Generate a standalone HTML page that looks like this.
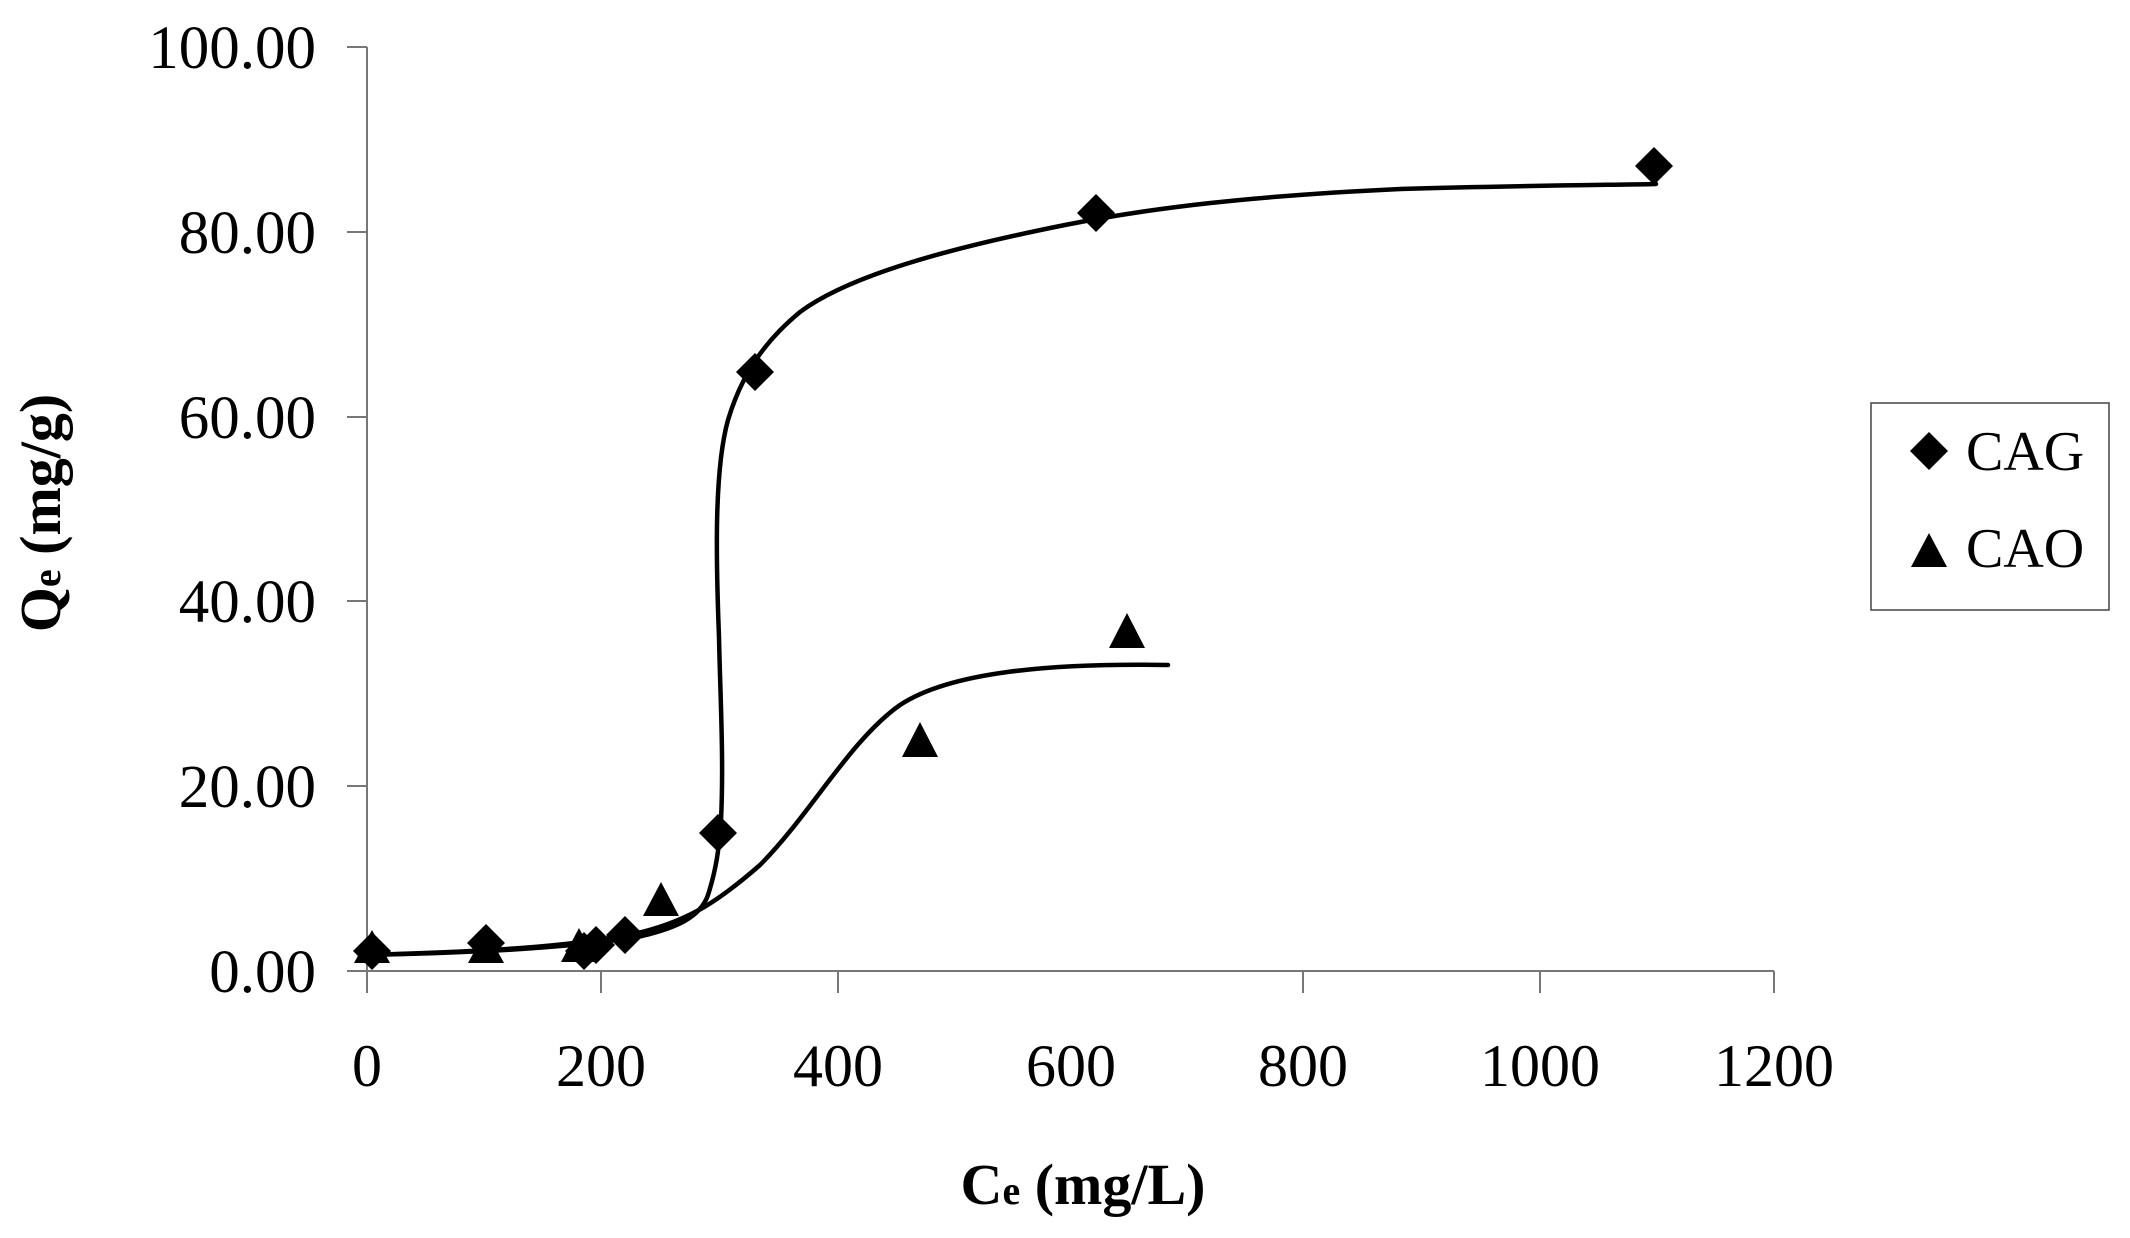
<!DOCTYPE html>
<html><head><meta charset="utf-8"><style>
html,body{margin:0;padding:0;background:#fff}
svg{display:block}
text{font-family:"Liberation Serif",serif;fill:#000}
</style></head><body>
<svg width="2130" height="1238" viewBox="0 0 2130 1238" xmlns="http://www.w3.org/2000/svg">
<rect width="2130" height="1238" fill="#fff"/>
<g stroke="#777" stroke-width="2" fill="none">
<line x1="367" y1="47" x2="367" y2="993"/>
<line x1="347" y1="971" x2="1774" y2="971"/>
<line x1="347" y1="47" x2="367" y2="47"/>
<line x1="347" y1="232" x2="367" y2="232"/>
<line x1="347" y1="417" x2="367" y2="417"/>
<line x1="347" y1="601" x2="367" y2="601"/>
<line x1="347" y1="786" x2="367" y2="786"/>
<line x1="601" y1="971" x2="601" y2="993"/>
<line x1="838" y1="971" x2="838" y2="993"/>
<line x1="1303" y1="971" x2="1303" y2="993"/>
<line x1="1540" y1="971" x2="1540" y2="993"/>
<line x1="1774" y1="971" x2="1774" y2="993"/>
</g>
<g font-size="61" text-anchor="end">
<text x="316" y="68">100.00</text>
<text x="316" y="253">80.00</text>
<text x="316" y="438">60.00</text>
<text x="316" y="622">40.00</text>
<text x="316" y="807">20.00</text>
<text x="316" y="992">0.00</text>
</g>
<g font-size="60" text-anchor="middle">
<text x="367" y="1086">0</text>
<text x="601" y="1086">200</text>
<text x="838" y="1086">400</text>
<text x="1071" y="1086">600</text>
<text x="1303" y="1086">800</text>
<text x="1540" y="1086">1000</text>
<text x="1774" y="1086">1200</text>
</g>
<text x="1083" y="1204" font-size="58" font-weight="bold" text-anchor="middle">C<tspan font-size="40">e</tspan> (mg/L)</text>
<text transform="translate(60,513) rotate(-90)" font-size="58" font-weight="bold" text-anchor="middle">Q<tspan font-size="40">e</tspan> (mg/g)</text>
<g fill="none" stroke="#000" stroke-width="4.5" stroke-linecap="round" stroke-linejoin="round">
<path d="M367,955 C450,953 560,950 642,936 C675,928 700,918 708,895 C716,870 719,850 721,820 C724,760 720,690 719,637 C716,560 714,470 728,420 C740,380 760,345 800,312 C850,275 950,248 1065,225 C1150,208 1250,196 1400,189 C1500,186 1600,185 1656,184"/>
<path d="M367,955 C450,952 560,950 642,932 C690,920 720,900 760,865 C810,815 850,740 900,705 C950,672 1050,663 1168,665"/>
</g>
<g fill="#000">
<path d="M372,932 L391,951 L372,970 L353,951Z"/>
<path d="M486,924 L505,943 L486,962 L467,943Z"/>
<path d="M584,932 L603,951 L584,970 L565,951Z"/>
<path d="M596,926 L615,945 L596,964 L577,945Z"/>
<path d="M625,916 L644,935 L625,954 L606,935Z"/>
<path d="M718,814 L737,833 L718,852 L699,833Z"/>
<path d="M755,353 L774,372 L755,391 L736,372Z"/>
<path d="M1096,194 L1115,213 L1096,232 L1077,213Z"/>
<path d="M1654,147 L1673,166 L1654,185 L1635,166Z"/>
<path d="M372,930 L390,963 L354,963Z"/>
<path d="M486,930 L504,963 L468,963Z"/>
<path d="M579,928 L597,962 L561,962Z"/>
<path d="M661,882 L679,916 L643,916Z"/>
<path d="M920,722 L938,757 L902,757Z"/>
<path d="M1127,613 L1145,648 L1109,648Z"/>
</g>
<rect x="1871" y="403" width="238" height="207" fill="none" stroke="#444" stroke-width="1.5"/>
<path d="M1929,432 L1948,451 L1929,470 L1910,451Z" fill="#000"/>
<path d="M1929,533 L1947,567 L1911,567Z" fill="#000"/>
<g font-size="56"><text x="1966" y="470">CAG</text><text x="1966" y="567">CAO</text></g>
</svg>
</body></html>
